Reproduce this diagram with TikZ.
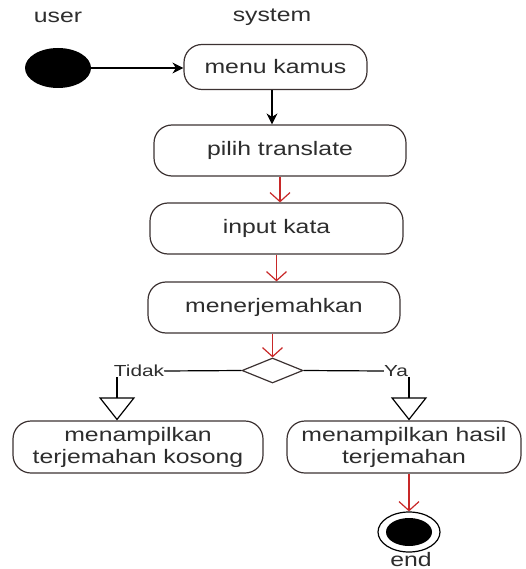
\documentclass[tikz,border=0pt]{standalone}
\usepackage{fontspec}
\usepackage{graphicx}
\setmainfont{Liberation Sans}
\usetikzlibrary{arrows.meta,shapes.geometric}
\newcommand\sxt[1]{\scalebox{1.27}[1]{#1}}
\newcommand\sxl[1]{\scalebox{1.3}[1]{#1}}
\definecolor{edgec}{RGB}{60,50,50}
\definecolor{redc}{RGB}{200,40,40}
\definecolor{txtc}{RGB}{45,45,45}
\begin{document}
\begin{tikzpicture}[x=1pt,y=-1pt,
  every node/.style={text=txtc},
  act/.style={draw=edgec,line width=1.2pt,rounded corners=18pt,minimum height=51pt,
    inner sep=0pt,align=center,font=\fontsize{19.5}{22}\selectfont},
  lbl/.style={font=\fontsize{19.5}{22}\selectfont,inner sep=0pt},
  small/.style={font=\fontsize{16}{18}\selectfont,inner sep=0pt,fill=white},
  blk/.style={draw=black,line width=1.2pt,-{Stealth[length=11pt,width=11pt]}},
  redarr/.style={draw=redc,line width=1.2pt,-{Straight Barb[length=9pt,width=20pt]}},
  tri/.style={draw=black,line width=1.2pt,-{Triangle[open,length=23pt,width=36pt]}},
  plain/.style={draw=black,line width=1.2pt}]
\useasboundingbox (0,0) rectangle (526,569);
\node[lbl] (user) at (58,17) {\sxt{user}};
\node[lbl] (system) at (272,17) {\sxt{system}};
\node[ellipse,fill=black,minimum width=66pt,minimum height=40pt,inner sep=0pt] (start) at (58,68) {};
\node[act,minimum width=183pt,minimum height=45pt] (menu) at (275.5,67) {\sxt{menu kamus}};
\node[act,minimum width=252pt] (pilih) at (280,150.5) {\sxt{pilih translate}};
\node[act,minimum width=253pt] (input) at (276.5,228.5) {\sxt{input kata}};
\node[act,minimum width=252pt] (mener) at (274,307.5) {\sxt{menerjemahkan}};
\node[diamond,draw=edgec,line width=1.2pt,minimum width=61pt,minimum height=25pt,inner sep=0pt,aspect=2.44] (dec) at (272.5,370.5) {};
\node[small] (tidak) at (139,371) {\sxl{Tidak}};
\node[small] (ya) at (396,371) {\sxl{Ya}};
\node[act,minimum width=250pt,minimum height=52pt] (lbox) at (138,447) {\sxt{menampilkan}\\\sxt{terjemahan kosong}};
\node[act,minimum width=234pt,minimum height=52pt] (rbox) at (404,447) {\sxt{menampilkan hasil}\\\sxt{terjemahan}};
\node[ellipse,draw=black,line width=1.2pt,fill=white,minimum width=62pt,minimum height=40pt,inner sep=0pt] (endo) at (409,532) {};
\node[ellipse,fill=black,minimum width=46pt,minimum height=28pt,inner sep=0pt] (endi) at (endo.center) {};
\node[lbl,anchor=base,text depth=0pt] (endt) at (411,566) {\sxt{end}};
\draw[blk] (start.east) -- (start.east -| menu.west);
\draw[blk] ([xshift=-3.5pt]menu.south) -- ([xshift=-8pt]pilih.north);
\draw[redarr] (pilih.south) -- (pilih.south |- input.north);
\draw[redarr] (input.south) -- (input.south |- mener.north);
\draw[redarr] ([xshift=-1.5pt]mener.south) -- (dec.north);
\draw[plain] (dec.west) -- (tidak.east);
\draw[plain] (dec.east) -- (ya.west);
\draw[tri] ([xshift=-22pt]tidak.south) -- ([xshift=-21pt]lbox.north);
\draw[tri] ([xshift=13pt]ya.south) -- ([xshift=5pt]rbox.north);
\draw[redarr] ([xshift=5pt]rbox.south) -- (endo.north);
\end{tikzpicture}
\end{document}
